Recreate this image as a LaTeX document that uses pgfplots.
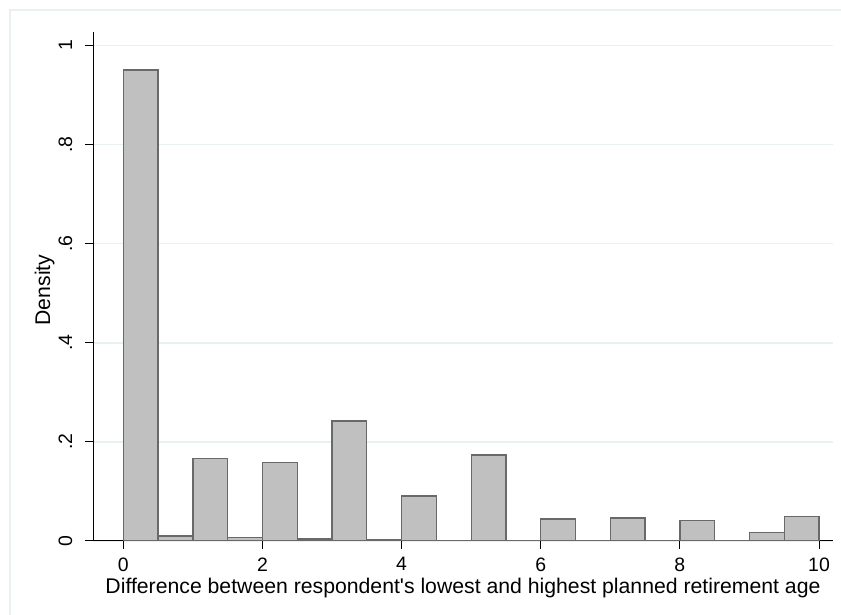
\documentclass[border=0pt]{standalone}
\usepackage{pgfplots}
\pgfplotsset{compat=1.18}
\usepackage{fontspec}
\setmainfont{Liberation Sans}

\definecolor{gridc}{RGB}{232,240,242}
\definecolor{framec}{RGB}{232,240,242}
\definecolor{barfill}{RGB}{192,192,192}
\definecolor{baredge}{RGB}{105,105,105}

% density per bin (bin width 0.5, left edges)
\pgfplotstableread{
x     d
0.0   0.950
0.5   0.010
1.0   0.167
1.5   0.0067
2.0   0.158
2.5   0.004
3.0   0.242
3.5   0.002
4.0   0.091
4.5   0.0015
5.0   0.1735
5.5   0.0015
6.0   0.0444
6.5   0.0
7.0   0.0465
7.5   0.0015
8.0   0.041
8.5   0.0
9.0   0.0168
9.5   0.049
10.0  0.049
}\hist

\begin{document}
\begin{tikzpicture}[x=1bp,y=1bp]
\useasboundingbox (0,0) rectangle (841,615);
\draw[framec, line width=1.2bp] (10,-5) -- (10,605) -- (850,605);
\begin{axis}[
  at={(93bp,74bp)}, anchor=south west,
  scale only axis, width=740bp, height=509bp,
  xmin=-0.436, xmax=10.201, ymin=0, ymax=1.027,
  axis x line*=bottom, axis y line*=left,
  axis line style={-, black, line width=1bp},
  xtick={0,2,4,6,8,10},
  ytick={0,0.2,0.4,0.6,0.8,1},
  yticklabels={0,.2,.4,.6,.8,1},
  /pgf/number format/assume math mode=true,
  tick align=outside, major tick length=8bp,
  tick style={black, line width=1bp},
  ymajorgrids, grid style={gridc, line width=1.6bp},
  tick label style={font=\fontsize{19.5}{21}\selectfont},
  xticklabel style={yshift=-5bp},
  yticklabel style={anchor=base, xshift=-13bp, rotate=90},
  label style={font=\fontsize{21.3}{24}\selectfont},
  xlabel={Difference between respondent\textquotesingle s lowest and highest planned retirement age},
  xlabel style={at={(axis description cs:0.5,-0.10413)}, anchor=base},
  ylabel={Density},
  ylabel style={at={(axis description cs:-0.0581,0.493)}, anchor=base},
]
\addplot[ybar interval, fill=barfill, draw=baredge, line width=1.3bp] table[x=x, y=d] {\hist};
\end{axis}
\end{tikzpicture}
\end{document}
